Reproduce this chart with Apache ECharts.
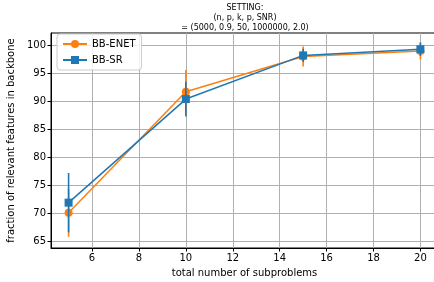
<!DOCTYPE html>
<html>
<head>
<meta charset="utf-8">
<script src="https://cdn.jsdelivr.net/npm/echarts@6/dist/echarts.min.js"></script>
<style>
html,body{margin:0;padding:0;background:#fff;}
#chart{width:434px;height:282px;}
</style>
</head>
<body>
<div id="chart"></div>
<script>
var subproblems = [5, 10, 15, 20];
var enetMean = [70.1, 91.7, 98.0, 99.0];
var enetErr  = [4.3, 3.9, 1.8, 1.5];
var srMean   = [71.9, 90.4, 98.2, 99.3];
var srErr    = [5.3, 3.1, 1.2, 1.2];
var xTicks = [6, 8, 10, 12, 14, 16, 18, 20];
var yTicks = [65, 70, 75, 80, 85, 90, 95, 100];
var titleLines = ['SETTING:', '(n, p, k, p, SNR)', '= (5000, 0.9, 50, 1000000, 2.0)'];

var ORANGE = '#ff7f0e', BLUE = '#1f77b4';
var FONT = 'DejaVu Sans';

function pairs(xs, ys) { return xs.map(function (x, i) { return [x, ys[i]]; }); }
function errData(xs, m, e) { return xs.map(function (x, i) { return [x, m[i] - e[i], m[i] + e[i]]; }); }
function errSeries(name, data, color, z) {
  return {
    type: 'custom', name: name, z: z, silent: true,
    data: data, encode: { x: 0, y: [1, 2] },
    renderItem: function (params, api) {
      var p1 = api.coord([api.value(0), api.value(1)]);
      var p2 = api.coord([api.value(0), api.value(2)]);
      return { type: 'line', shape: { x1: p1[0], y1: p1[1], x2: p2[0], y2: p2[1] },
               style: { stroke: color, lineWidth: 1.6 } };
    }
  };
}

var chart = echarts.init(document.getElementById('chart'), null, { renderer: 'canvas' });
chart.setOption({
  animation: false,
  backgroundColor: '#fff',
  textStyle: { fontFamily: FONT },
  title: {
    text: titleLines.join('\n'), left: 245, top: 3, textAlign: 'center', padding: 0,
    textStyle: { fontFamily: FONT, fontSize: 8, fontWeight: 'normal', color: '#000', lineHeight: 10 }
  },
  grid: { left: 51, width: 387, top: 33, bottom: 34, containLabel: false, outerBoundsMode: 'none',
          show: true, borderColor: '#000', borderWidth: 1, backgroundColor: 'transparent' },
  legend: {
    orient: 'vertical', left: 57, top: 34,
    data: ['BB-ENET', 'BB-SR'],
    backgroundColor: 'rgba(255,255,255,0.8)', borderColor: '#cccccc', borderWidth: 1, borderRadius: 3,
    padding: [5, 6, 5, 5], itemGap: 6, itemWidth: 24, itemHeight: 10,
    textStyle: { fontFamily: FONT, fontSize: 10, color: '#000' }
  },
  xAxis: {
    type: 'value', min: 4.25, max: 20.75,
    name: 'total number of subproblems', nameLocation: 'middle', nameGap: 20,
    nameTextStyle: { fontFamily: FONT, fontSize: 10, color: '#000' },
    axisLine: { lineStyle: { color: '#000', width: 1 } },
    axisTick: { show: true, length: 3.5, lineStyle: { color: '#000' }, customValues: xTicks },
    axisLabel: { fontFamily: FONT, fontSize: 10, color: '#000', margin: 5, customValues: xTicks },
    splitLine: { show: true, lineStyle: { color: '#b0b0b0', width: 1 } }
  },
  yAxis: {
    type: 'value', min: 63.8, max: 102.2,
    name: 'fraction of relevant features in backbone', nameLocation: 'middle', nameGap: 29,
    nameTextStyle: { fontFamily: FONT, fontSize: 10, color: '#000' },
    axisLine: { show: true, lineStyle: { color: '#000', width: 1 } },
    axisTick: { show: true, length: 3.5, lineStyle: { color: '#000' }, customValues: yTicks },
    axisLabel: { fontFamily: FONT, fontSize: 10, color: '#000', margin: 5, customValues: yTicks },
    splitLine: { show: true, lineStyle: { color: '#b0b0b0', width: 1 } }
  },
  series: [
    errSeries('BB-ENET-err', errData(subproblems, enetMean, enetErr), ORANGE, 1),
    { type: 'line', name: 'BB-ENET', z: 2, data: pairs(subproblems, enetMean),
      symbol: 'circle', symbolSize: 8, color: ORANGE,
      lineStyle: { color: ORANGE, width: 1.5 }, itemStyle: { color: ORANGE } },
    errSeries('BB-SR-err', errData(subproblems, srMean, srErr), BLUE, 3),
    { type: 'line', name: 'BB-SR', z: 4, data: pairs(subproblems, srMean),
      symbol: 'rect', symbolSize: 8, color: BLUE,
      lineStyle: { color: BLUE, width: 1.5 }, itemStyle: { color: BLUE } }
  ]
});
</script>
</body>
</html>
